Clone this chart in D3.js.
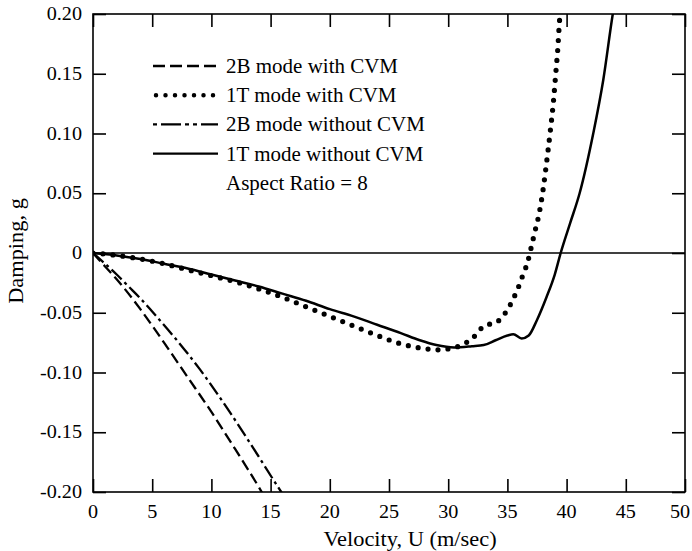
<!DOCTYPE html>
<html>
<head>
<meta charset="utf-8">
<script src="https://cdn.jsdelivr.net/npm/d3@7/dist/d3.min.js"></script>
<style>
  html, body { margin: 0; padding: 0; background: #fff; }
  svg text { font-family: "Liberation Serif", "Times New Roman", serif; fill: #000; }
</style>
</head>
<body>
<svg id="chart" width="692" height="551"></svg>
<script>
// Damping versus velocity for the 2B and 1T modes, with and without CVM
const xTicks = [0, 5, 10, 15, 20, 25, 30, 35, 40, 45, 50];
const yTicks = [0.20, 0.15, 0.10, 0.05, 0, -0.05, -0.10, -0.15, -0.20];
const yTickLabels = ["0.20", "0.15", "0.10", "0.05", "0", "-0.05", "-0.10", "-0.15", "-0.20"];

const seriesNames = ["2B mode with CVM", "1T mode with CVM", "2B mode without CVM", "1T mode without CVM"];
const noteText = "Aspect Ratio = 8";

// [velocity (m/sec), damping g]
const bend2WithCVM = [
  [0, 0], [1, -0.011], [2, -0.022], [3, -0.034], [4, -0.047], [6, -0.075],
  [8, -0.104], [10, -0.133], [12, -0.164], [14.25, -0.200], [14.6, -0.206]
];
const torsion1WithCVM = [
  [0, 0], [2, -0.002], [4, -0.005], [6, -0.009], [8, -0.014], [10, -0.019],
  [12, -0.024], [14, -0.030], [16, -0.037], [18, -0.045], [20, -0.053],
  [22, -0.061], [24, -0.069], [26, -0.076], [28, -0.080], [29, -0.081],
  [30.6, -0.079], [31.4, -0.0756], [32.1, -0.071], [32.6, -0.065], [33.2, -0.060],
  [33.9, -0.059], [34.6, -0.053], [35.1, -0.046], [35.5, -0.038], [35.8, -0.032],
  [36.1, -0.024], [36.4, -0.016], [36.7, -0.008], [36.9, 0], [37.3, 0.017],
  [37.7, 0.034], [38.0, 0.052], [38.3, 0.075], [38.6, 0.100], [38.9, 0.128],
  [39.1, 0.152], [39.25, 0.170], [39.4, 0.194], [39.5, 0.206]
];
const bend2WithoutCVM = [
  [0, 0], [1, -0.0088], [2, -0.018], [3, -0.028], [4, -0.038], [5, -0.049],
  [7, -0.072], [9, -0.097], [11, -0.125], [13, -0.155], [15.9, -0.200], [16.3, -0.206]
];
const torsion1WithoutCVM = [
  [0, 0], [2, -0.002], [4, -0.005], [6, -0.009], [8, -0.013], [10, -0.018],
  [12, -0.023], [14, -0.028], [16, -0.034], [18, -0.040], [20, -0.047],
  [22, -0.053], [24, -0.060], [26, -0.067], [27.6, -0.073], [29, -0.077],
  [30.5, -0.079], [32, -0.078], [33, -0.077], [34, -0.073], [35, -0.069],
  [35.5, -0.068], [36.2, -0.0715], [36.8, -0.069], [37.5, -0.056], [38.3, -0.037],
  [39, -0.018], [39.5, 0], [40.3, 0.025], [41.1, 0.050], [42.25, 0.100],
  [43.1, 0.145], [43.9, 0.200], [44.1, 0.212]
];

const seriesData = [bend2WithCVM, torsion1WithCVM, bend2WithoutCVM, torsion1WithoutCVM];
const seriesStyles = [
  { dash: "11,5", width: 2.3, cap: "butt" },
  { dash: "0,10", width: 5.2, cap: "round" },
  { dash: "14,4,3,4", width: 2.3, cap: "butt" },
  { dash: null, width: 2.5, cap: "butt" }
];
const legendDash = ["12,5", "0,9.5", "4,4,20,4,4,4", null];

const svg = d3.select("#chart");
const margin = { left: 93, right: 7, top: 14, bottom: 59 };
const W = 692, H = 551;
const x = d3.scaleLinear().domain([0, 50]).range([margin.left, W - margin.right]);
const y = d3.scaleLinear().domain([-0.2, 0.2]).range([H - margin.bottom, margin.top]);
const stretch = 1.12;   // wide serif glyphs

svg.append("clipPath").attr("id", "plotClip")
  .append("rect")
  .attr("x", x(0)).attr("y", y(0.2))
  .attr("width", x(50) - x(0)).attr("height", y(-0.2) - y(0.2));

// axes with inward ticks on all four sides
const tickLen = 13;
svg.append("g").attr("transform", `translate(0,${y(-0.2)})`)
  .call(d3.axisBottom(x).tickValues(xTicks).tickSize(-tickLen).tickFormat(""));
svg.append("g").attr("transform", `translate(0,${y(0.2)})`)
  .call(d3.axisTop(x).tickValues(xTicks).tickSize(-tickLen).tickFormat(""));
svg.append("g").attr("transform", `translate(${x(0)},0)`)
  .call(d3.axisLeft(y).tickValues(yTicks).tickSize(-tickLen).tickFormat(""));
svg.append("g").attr("transform", `translate(${x(50)},0)`)
  .call(d3.axisRight(y).tickValues(yTicks).tickSize(-tickLen).tickFormat(""));
svg.selectAll(".domain").remove();
svg.selectAll(".tick line").attr("stroke", "#000").attr("stroke-width", 1.6);

// frame
svg.append("rect")
  .attr("x", x(0)).attr("y", y(0.2))
  .attr("width", x(50) - x(0)).attr("height", y(-0.2) - y(0.2))
  .attr("fill", "none").attr("stroke", "#000").attr("stroke-width", 1.6);

// zero line
svg.append("line")
  .attr("x1", x(0)).attr("x2", x(50)).attr("y1", y(0)).attr("y2", y(0))
  .attr("stroke", "#000").attr("stroke-width", 1.5);

// tick labels (the last one is nudged in so it stays on the canvas)
svg.append("g").selectAll("text").data(xTicks).join("text")
  .attr("transform", d => `translate(${Math.min(x(d), W - 12)},${y(-0.2) + 25.5}) scale(${stretch},1)`)
  .attr("text-anchor", "middle").attr("font-size", 18)
  .text(d => d);
svg.append("g").selectAll("text").data(yTicks).join("text")
  .attr("transform", (d, i) => `translate(82,${y(d) + 6}) scale(${stretch},1)`)
  .attr("text-anchor", "end").attr("font-size", 18)
  .text((d, i) => yTickLabels[i]);

// axis titles
svg.append("text")
  .attr("transform", `translate(410,546) scale(${stretch},1)`)
  .attr("text-anchor", "middle").attr("font-size", 20)
  .text("Velocity, U (m/sec)");
svg.append("text")
  .attr("transform", `translate(23,251) rotate(-90) scale(${stretch},1)`)
  .attr("text-anchor", "middle").attr("font-size", 20)
  .text("Damping, g");

// curves
const line = d3.line().x(d => x(d[0])).y(d => y(d[1])).curve(d3.curveMonotoneX);
const plot = svg.append("g").attr("clip-path", "url(#plotClip)");
seriesData.forEach((data, i) => {
  const st = seriesStyles[i];
  plot.append("path")
    .attr("d", line(data))
    .attr("fill", "none").attr("stroke", "#000")
    .attr("stroke-width", st.width)
    .attr("stroke-linecap", st.cap)
    .attr("stroke-dasharray", st.dash);
});

// legend
const legend = svg.append("g");
seriesNames.forEach((name, i) => {
  const ly = 66 + i * 29.2;
  const st = seriesStyles[i];
  legend.append("line")
    .attr("x1", i === 1 ? 156 : 153).attr("x2", 218).attr("y1", ly).attr("y2", ly)
    .attr("stroke", "#000")
    .attr("stroke-width", i === 1 ? 4.5 : 2.4)
    .attr("stroke-linecap", st.cap)
    .attr("stroke-dasharray", legendDash[i]);
  legend.append("text")
    .attr("transform", `translate(226,${ly + 7}) scale(1.05,1)`)
    .attr("font-size", 20)
    .text(name);
});
legend.append("text")
  .attr("transform", `translate(226,${66 + 4 * 29.2 + 7}) scale(1.05,1)`)
  .attr("font-size", 20)
  .text(noteText);
</script>
</body>
</html>
